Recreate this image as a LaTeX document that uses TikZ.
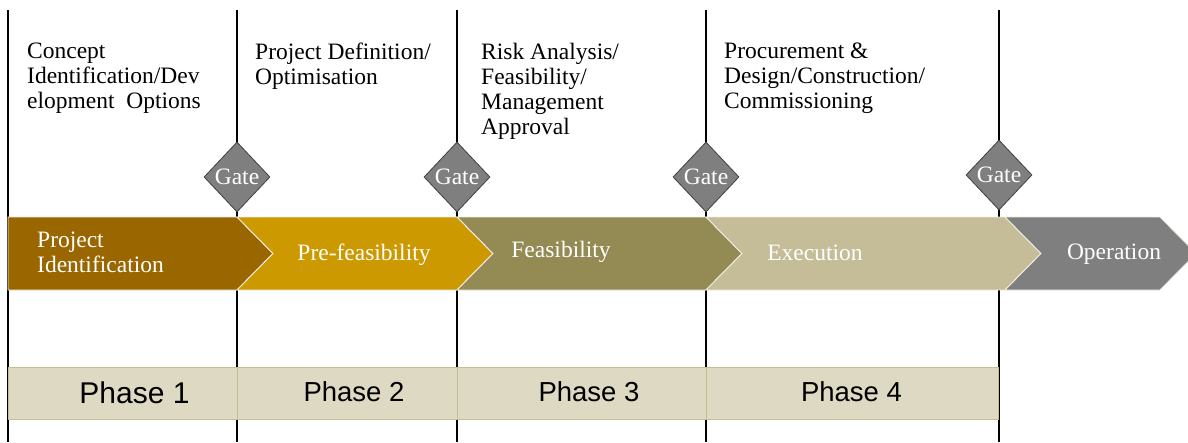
\documentclass[tikz,border=0pt]{standalone}
\usepackage{fontspec}
\setmainfont{Liberation Serif}
\newfontfamily\phasefont{Liberation Sans}
\usetikzlibrary{shapes.geometric}
\definecolor{chevA}{HTML}{996600}
\definecolor{chevB}{HTML}{CC9900}
\definecolor{chevC}{HTML}{948A54}
\definecolor{chevD}{HTML}{C4BD97}
\definecolor{chevE}{HTML}{7F7F7F}
\definecolor{chevedge}{HTML}{EEECE1}
\definecolor{phasefill}{HTML}{DDD9C3}
\definecolor{phaseedge}{HTML}{C4BD97}
\begin{document}
\begin{tikzpicture}[x=1pt,y=-1pt]
    \tikzset{
      rule/.style={line width=1.8pt,black},
      chev/.style={draw=chevedge,line width=0.9pt},
      gate/.style={diamond,draw=black!75,fill=chevE,line width=0.8pt,inner sep=0pt,
                   minimum width=66pt,minimum height=70pt,text=white,
                   font=\fontsize{23.5}{25}\selectfont},
      stage/.style={anchor=base,text=white,inner sep=0pt,font=\fontsize{23.5}{25}\selectfont},
      task/.style={anchor=north west,align=left,inner sep=0pt,font=\fontsize{23.5}{25}\selectfont},
      phasebox/.style={fill=phasefill,draw=phaseedge,line width=0.8pt},
      phasetext/.style={anchor=base,inner sep=0pt,font=\phasefont\fontsize{27.5}{30}\selectfont}
    }
    \useasboundingbox (0,0) rectangle (1188,442);
    \clip (0,0) rectangle (1188,442);
    % timeline rules
    \coordinate (t0) at (8,10);   \coordinate (b0) at (8,442);
    \coordinate (t1) at (237,10); \coordinate (b1) at (237,442);
    \coordinate (t2) at (457,10); \coordinate (b2) at (457,442);
    \coordinate (t3) at (706,10); \coordinate (b3) at (706,442);
    \coordinate (t4) at (999,10); \coordinate (b4) at (999,442);
    \draw [rule] (t0) -- (b0);
    \draw [rule] (t1) -- (b1);
    \draw [rule] (t2) -- (b2);
    \draw [rule] (t3) -- (b3);
    \draw [rule] (t4) -- (b4);
    % tasks above
    \node [task] (c1) at (27,42.5) {Concept\\Identification/Dev\\elopment~ Options};
    \node [task] (c2) at (255,42.5) {Project Definition/\\Optimisation};
    \node [task] (c3) at (481,42.5) {Risk Analysis/\\Feasibility/\\Management\\Approval};
    \node [task] (c4) at (724,42.5) {Procurement \&\\Design/Construction/\\Commissioning};
    % phases
    \filldraw [phasebox] (8,367) rectangle (237,419);
    \filldraw [phasebox] (237,367) rectangle (457,419);
    \filldraw [phasebox] (457,367) rectangle (706,419);
    \filldraw [phasebox] (706,367) rectangle (998,419);
    \node [phasetext,font=\phasefont\fontsize{30}{32}\selectfont] (p1) at (134.5,403) {Phase 1};
    \node [phasetext] (p2) at (354,401) {Phase 2};
    \node [phasetext] (p3) at (589,401) {Phase 3};
    \node [phasetext] (p4) at (851.5,401) {Phase 4};
    % chevrons
    \filldraw [chev,fill=chevA] (8,217) -- (237,217) -- (273,253.5) -- (237,290) -- (8,290) -- cycle;
    \filldraw [chev,fill=chevB] (237,217) -- (457,217) -- (493,253.5) -- (457,290) -- (237,290) -- (273,253.5) -- cycle;
    \filldraw [chev,fill=chevC] (457,217) -- (706,217) -- (742,253.5) -- (706,290) -- (457,290) -- (493,253.5) -- cycle;
    \filldraw [chev,fill=chevD] (706,217) -- (1005,217) -- (1041,253.5) -- (1005,290) -- (706,290) -- (742,253.5) -- cycle;
    \filldraw [chev,fill=chevE] (1005,217) -- (1160,217) -- (1196,253.5) -- (1160,290) -- (1005,290) -- (1041,253.5) -- cycle;
    \node [stage,anchor=west,align=left] (s1) at (37,252) {Project\\Identification};
    \node [stage] (s2) at (364,260) {Pre-feasibility};
    \node [stage] (s3) at (561,257) {Feasibility};
    \node [stage] (s4) at (815,260) {Execution};
    \node [stage] (s5) at (1114,259) {Operation};
    % gates
    \node [gate] (g1) at (237,177) {Gate};
    \node [gate] (g2) at (457,177) {Gate};
    \node [gate] (g3) at (706,177) {Gate};
    \node [gate] (g4) at (999,175) {Gate};
\end{tikzpicture}
\end{document}
